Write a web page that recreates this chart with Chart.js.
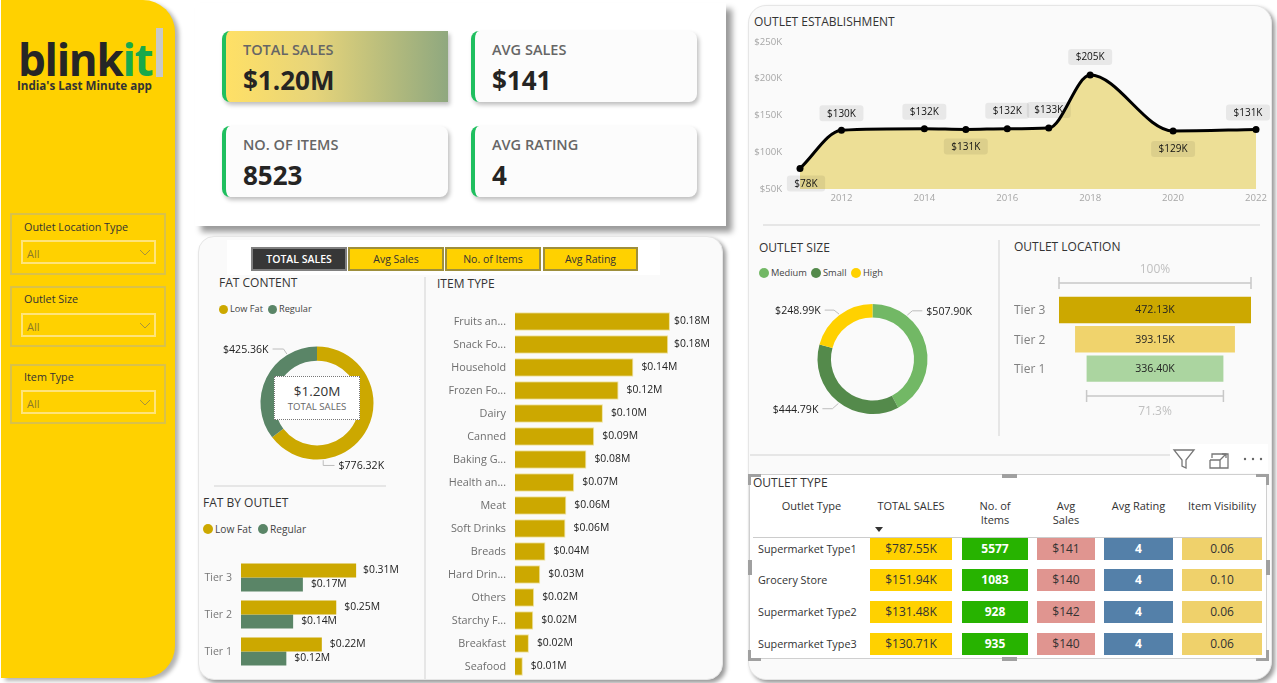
<!DOCTYPE html>
<html>
<head>
<meta charset="utf-8">
<title>Blinkit sales dashboard</title>
<script src="https://cdn.jsdelivr.net/npm/chart.js@4/dist/chart.umd.js"></script>
<style>
html,body{margin:0;padding:0;width:1277px;height:683px;overflow:hidden;background:#fff;font-family:'Open Sans',sans-serif;color:#333}
canvas,.abs,.t{position:absolute}
.t{white-space:nowrap;line-height:16px}
.title{font-size:12px;color:#333}
.sidebar{left:1px;top:0;width:174px;height:678px;background:#ffd100;border-radius:0 32px 32px 0;box-shadow:4px 3px 4px rgba(0,0,0,.3)}
.slicer{left:10px;width:152px;border:2px solid #d9c14a;box-sizing:content-box}
.drop{left:9px;width:131px;height:20px;border:2px solid #ffe47a}
.drop span{position:absolute;left:4px;top:3.5px;font-size:11px;line-height:16px;color:#8c7a2a}
.chev{position:absolute;right:3px;top:7px}
.kpi-panel{left:195px;top:3px;width:531px;height:223px;background:#fff;box-shadow:6px 6px 6px rgba(0,0,0,.4)}
#cards{left:222px;top:31px;display:grid;grid-template-columns:226px 226px;grid-auto-rows:71px;column-gap:23px;row-gap:24px}
.card{position:relative;background:#fcfcfc;border-left:4px solid #1fbf5f;border-radius:8px;box-shadow:2px 3px 4px rgba(0,0,0,.25);box-sizing:border-box}
.card.on{background:linear-gradient(90deg,#ffe066 0%,#e6d47a 40%,#8fa87f 100%);border-radius:8px 0 0 8px}
.card b{position:absolute;left:17px;top:8.5px;font-size:14.5px;line-height:20px;font-weight:600;color:#666;white-space:nowrap}
.card strong{position:absolute;left:17px;top:30.5px;font-size:26px;line-height:36px;font-weight:700;color:#252423}
.panel{background:#fafafa;box-shadow:3px 3px 4px rgba(0,0,0,.4);border:1px solid #e6e6e6;box-sizing:border-box}
.btn{top:247px;height:24px;box-sizing:border-box;border:2px solid #9e8f3c;background:#ffd100;font-size:10.5px;line-height:20px;text-align:center;color:#333}
.btn.on{background:#373737;border-color:#808080;color:#fff;font-weight:600}
.dot{position:absolute;border-radius:50%}
.sep{position:absolute;background:#e6e6e6}
#grid{left:753px;top:495.5px;display:grid;grid-template-columns:117px 82px 10px 66px 9px 58px 9px 69px 9px 80px;font-size:11px;text-align:center}
.head{height:42px;line-height:14px;padding-top:3.5px;box-sizing:border-box;color:#333}
.cell{height:22px;line-height:22px;margin-bottom:9.7px;font-size:12px;color:#333}
.name{text-align:left;padding-left:5px;font-size:10.8px}
.white{color:#fff;font-weight:700}
.handle{position:absolute;background:#a0a0a0}
</style>
</head>
<body>

<div class="abs sidebar"></div>
<div class="t" style="left:18px;top:35px;font-size:44px;line-height:48px;font-weight:700;color:#262626;letter-spacing:-1.3px">blink<span style="color:#18a94b">it</span></div>
<div class="abs" style="left:156px;top:28px;width:7px;height:49px;background:#c9c9c9"></div>
<div class="t" style="left:17px;top:78px;font-size:11.6px;font-weight:700;color:#333">India's Last Minute app</div>

<div class="abs slicer" style="top:213px;height:58px">
  <div class="t" style="left:12px;top:4px;font-size:10.8px">Outlet Location Type</div>
  <div class="abs drop" style="top:25px"><span>All</span><svg class="chev" width="12" height="8"><path d="M1 1l5 5 5-5" fill="none" stroke="#a8943c"/></svg></div>
</div>
<div class="abs slicer" style="top:286px;height:57px">
  <div class="t" style="left:12px;top:3px;font-size:10.8px">Outlet Size</div>
  <div class="abs drop" style="top:25px"><span>All</span><svg class="chev" width="12" height="8"><path d="M1 1l5 5 5-5" fill="none" stroke="#a8943c"/></svg></div>
</div>
<div class="abs slicer" style="top:364px;height:56px">
  <div class="t" style="left:12px;top:3px;font-size:10.8px">Item Type</div>
  <div class="abs drop" style="top:24px"><span>All</span><svg class="chev" width="12" height="8"><path d="M1 1l5 5 5-5" fill="none" stroke="#a8943c"/></svg></div>
</div>

<div class="abs kpi-panel"></div>
<div class="abs" id="cards"></div>

<!-- middle panel -->
<div class="abs panel" style="left:198px;top:236px;width:525px;height:444px;border-radius:16px"></div>
<div class="abs" style="left:227px;top:240px;width:433px;height:35px;background:#fff"></div>
<div class="abs btn on" style="left:251px;width:96px">TOTAL SALES</div>
<div class="abs btn" style="left:348px;width:96px">Avg Sales</div>
<div class="abs btn" style="left:445px;width:96px">No. of Items</div>
<div class="abs btn" style="left:543px;width:95px">Avg Rating</div>

<div class="t title" style="left:219px;top:275px">FAT CONTENT</div>
<div class="t title" style="left:437px;top:276px">ITEM TYPE</div>
<div class="t title" style="left:203px;top:495px">FAT BY OUTLET</div>
<div class="sep" style="left:424px;top:277px;width:2px;height:402px"></div>
<div class="sep" style="left:214px;top:485px;width:172px;height:2px"></div>
<div class="abs" id="fatLegend"></div>
<div class="abs" id="fatOutletLegend"></div>

<canvas id="fatDonut" width="220" height="140" style="left:207px;top:333px"></canvas>
<div class="abs" style="left:274px;top:376px;width:86px;height:44px;box-sizing:border-box;background:#fff;border:1px dotted #777;text-align:center">
  <div style="font-size:13.5px;line-height:18px;margin-top:5px;color:#333">$1.20M</div>
  <div style="font-size:9.6px;line-height:13px;color:#666">TOTAL SALES</div>
</div>
<canvas id="fatOutlet" width="205" height="125" style="left:200px;top:550px"></canvas>
<canvas id="itemType" width="290" height="380" style="left:430px;top:300px"></canvas>

<!-- right panel -->
<div class="abs panel" style="left:748px;top:5px;width:524px;height:675px;border-radius:18px"></div>
<div class="t title" style="left:754px;top:14px">OUTLET ESTABLISHMENT</div>
<div class="sep" style="left:763px;top:224px;width:497px;height:2px"></div>
<div class="t title" style="left:759px;top:240px">OUTLET SIZE</div>
<div class="t title" style="left:1014px;top:239px">OUTLET LOCATION</div>
<div class="sep" style="left:998px;top:240px;width:2px;height:196px"></div>
<div class="sep" style="left:750px;top:454px;width:420px;height:2px"></div>
<div class="abs" id="sizeLegend"></div>

<canvas id="estChart" width="525" height="180" style="left:750px;top:30px"></canvas>
<canvas id="sizeDonut" width="221" height="140" style="left:762px;top:289px"></canvas>
<canvas id="funnel" width="246" height="160" style="left:1014px;top:260px"></canvas>

<!-- visual header icons over the table -->
<div class="abs" style="left:1170px;top:444px;width:98px;height:29px;background:#fff"></div>
<svg class="abs" style="left:1172px;top:448px" width="96" height="24" fill="none" stroke="#777" stroke-width="1.3">
  <path d="M2 2h20l-8 10v8l-4-2v-6z"/>
  <path d="M38 12v8h10v-8h-10M48 20h8v-14h-16v4"/>
  <path d="M48 12l6-6m-4 0h4v4"/>
  <circle cx="73" cy="11" r="1.2" fill="#666" stroke="none"/><circle cx="81" cy="11" r="1.2" fill="#666" stroke="none"/><circle cx="89" cy="11" r="1.2" fill="#666" stroke="none"/>
</svg>

<!-- table visual -->
<div class="abs" style="left:749px;top:474px;width:518px;height:185px;background:#fff;border:1px solid #cfcfcf;box-sizing:border-box"></div>
<div class="t title" style="left:753px;top:475px">OUTLET TYPE</div>
<div class="abs" id="grid"></div>
<div class="abs" style="left:753px;top:537px;width:509px;height:1px;background:#ccc"></div>
<svg class="abs" style="left:875px;top:527px" width="8" height="5"><path d="M0 0h8l-4 5z" fill="#333"/></svg>
<div class="handle" style="left:748px;top:474px;width:13px;height:3px"></div><div class="handle" style="left:748px;top:474px;width:3px;height:11px"></div>
<div class="handle" style="left:1256px;top:474px;width:13px;height:3px"></div><div class="handle" style="left:1266px;top:474px;width:3px;height:11px"></div>
<div class="handle" style="left:748px;top:658px;width:13px;height:3px"></div><div class="handle" style="left:748px;top:650px;width:3px;height:11px"></div>
<div class="handle" style="left:1256px;top:658px;width:13px;height:3px"></div><div class="handle" style="left:1266px;top:650px;width:3px;height:11px"></div>
<div class="handle" style="left:1002px;top:474px;width:15px;height:4px"></div>
<div class="handle" style="left:1002px;top:657px;width:15px;height:4px"></div>
<div class="handle" style="left:748px;top:560px;width:4px;height:15px"></div>
<div class="handle" style="left:1266px;top:560px;width:4px;height:15px"></div>

<script>
// KPI cards
var kpiTitles = ['TOTAL SALES', 'AVG SALES', 'NO. OF ITEMS', 'AVG RATING'];
var kpiValues = ['$1.20M', '$141', '8523', '4'];

// outlet establishment, sales in $K
var estYears = [2011, 2012, 2014, 2015, 2016, 2017, 2018, 2020, 2022];
var estSales = [78, 130, 132, 131, 132, 133, 205, 129, 131];
var estYearTicks = [2012, 2014, 2016, 2018, 2020, 2022];

// fat content, $K
var fatNames = ['Low Fat', 'Regular'];
var fatSales = [776.32, 425.36];

// fat by outlet, $M
var tiers = ['Tier 3', 'Tier 2', 'Tier 1'];
var lowFatByTier = [0.307, 0.254, 0.2155];
var regularByTier = [0.165, 0.139, 0.1209];

// item type, $M
var itemNames = ['Fruits an...', 'Snack Fo...', 'Household', 'Frozen Fo...', 'Dairy', 'Canned', 'Baking G...', 'Health an...', 'Meat', 'Soft Drinks', 'Breads', 'Hard Drin...', 'Others', 'Starchy F...', 'Breakfast', 'Seafood'];
var itemSales = [0.178, 0.176, 0.136, 0.119, 0.101, 0.091, 0.082, 0.068, 0.059, 0.058, 0.035, 0.029, 0.022, 0.021, 0.016, 0.009];

// outlet size, $K
var sizeNames = ['Medium', 'Small', 'High'];
var sizeSales = [507.90, 444.79, 248.99];

// outlet location, $K
var tierSales = [472.13, 393.15, 336.40];

// outlet type table
var typeHeaders = ['Outlet Type', 'TOTAL SALES', 'No. of<br>Items', 'Avg<br>Sales', 'Avg Rating', 'Item Visibility'];
var typeNames = ['Supermarket Type1', 'Grocery Store', 'Supermarket Type2', 'Supermarket Type3'];
var typeSales = ['$787.55K', '$151.94K', '$131.48K', '$130.71K'];
var typeItems = ['5577', '1083', '928', '935'];
var typeAvgSales = ['$141', '$140', '$142', '$140'];
var typeRating = ['4', '4', '4', '4'];
var typeVisibility = ['0.06', '0.10', '0.06', '0.06'];

var GOLD = '#cca800', SAGE = '#5a8567';

Chart.defaults.font.family = "'Open Sans', sans-serif";
Chart.defaults.animation = false;
Chart.defaults.responsive = false;
Chart.defaults.plugins.legend.display = false;
Chart.defaults.plugins.tooltip.enabled = false;

// cards
kpiTitles.forEach(function (name, i) {
	document.getElementById('cards').insertAdjacentHTML('beforeend',
		'<div class="card' + (i == 0 ? ' on' : '') + '"><b>' + name + '</b><strong>' + kpiValues[i] + '</strong></div>');
});

// html legends
function legend(id, left, top, names, colors, size, radius, gaps) {
	var box = document.getElementById(id);
	box.style.left = left + 'px';
	box.style.top = top + 'px';
	var x = 0;
	names.forEach(function (name, i) {
		box.insertAdjacentHTML('beforeend',
			'<div class="dot" style="left:' + x + 'px;top:' + (-radius) + 'px;width:' + radius * 2 + 'px;height:' + radius * 2 + 'px;background:' + colors[i] + '"></div>' +
			'<div class="t" style="left:' + (x + radius * 2 + 2) + 'px;top:-8px;font-size:' + size + 'px;color:#444">' + name + '</div>');
		x += gaps[i];
	});
}
legend('fatLegend', 219, 309, fatNames, [GOLD, SAGE], 9.2, 4.5, [49]);
legend('fatOutletLegend', 203, 529, fatNames, [GOLD, SAGE], 10.2, 5, [55]);
legend('sizeLegend', 759, 273, sizeNames, ['#72b865', '#548a4b', '#ffd100'], 9.3, 5, [52, 40]);

// outlet type table
var grid = document.getElementById('grid');
typeHeaders.forEach(function (h, i) {
	grid.insertAdjacentHTML('beforeend', '<div class="head">' + h + '</div>' + (i > 0 && i < 5 ? '<div></div>' : ''));
});
typeNames.forEach(function (name, r) {
	grid.insertAdjacentHTML('beforeend',
		'<div class="cell name">' + name + '</div>' +
		'<div class="cell" style="background:#ffd100">' + typeSales[r] + '</div><div></div>' +
		'<div class="cell white" style="background:#27b300">' + typeItems[r] + '</div><div></div>' +
		'<div class="cell" style="background:#e09590">' + typeAvgSales[r] + '</div><div></div>' +
		'<div class="cell white" style="background:#5480a9">' + typeRating[r] + '</div><div></div>' +
		'<div class="cell" style="background:#efd16b">' + typeVisibility[r] + '</div>');
});

// value at the end of each horizontal bar, $0.00M
var barEndLabels = {
	id: 'barEndLabels',
	afterDatasetsDraw: function (chart, args, opts) {
		var ctx = chart.ctx;
		ctx.save();
		ctx.font = opts.size + "px 'Open Sans'";
		ctx.fillStyle = '#222';
		ctx.textBaseline = 'middle';
		chart.data.datasets.forEach(function (ds, d) {
			chart.getDatasetMeta(d).data.forEach(function (bar, i) {
				var x = Math.min(bar.x + 8, chart.chartArea.left + opts.limit);
				ctx.fillText('$' + ds.data[i].toFixed(2) + 'M', x, bar.y);
			});
		});
		ctx.restore();
	}
};

// donut slice labels with leader lines
var donutLeaders = {
	id: 'donutLeaders',
	afterDatasetsDraw: function (chart, args, opts) {
		var ctx = chart.ctx, arcs = chart.getDatasetMeta(0).data;
		ctx.save();
		ctx.font = "10.6px 'Open Sans'";
		ctx.textBaseline = 'middle';
		arcs.forEach(function (arc, i) {
			var l = opts.leaders[i], a = l.angle * Math.PI / 180, r = arc.outerRadius + 1;
			var x0 = arc.x + r * Math.sin(a), y0 = arc.y - r * Math.cos(a);
			var x1 = x0 + l.ex, y1 = y0 + l.ey, x2 = x1 + l.run;
			ctx.strokeStyle = '#bdbdbd';
			ctx.lineWidth = 1;
			ctx.beginPath();
			ctx.moveTo(x0, y0);
			ctx.lineTo(x1, y1);
			ctx.lineTo(x2, y1);
			ctx.stroke();
			ctx.fillStyle = '#222';
			ctx.textAlign = l.run < 0 ? 'right' : 'left';
			ctx.fillText('$' + chart.data.datasets[0].data[i].toFixed(2) + 'K', x2 + (l.run < 0 ? -4 : 4), y1 + 1);
		});
		ctx.restore();
	}
};

// rounded grey value pills over the line
var linePills = {
	id: 'linePills',
	afterDatasetsDraw: function (chart, args, opts) {
		var ctx = chart.ctx;
		ctx.save();
		ctx.font = "10px 'Open Sans'";
		ctx.textAlign = 'center';
		ctx.textBaseline = 'middle';
		chart.getDatasetMeta(0).data.forEach(function (pt, i) {
			var text = '$' + estSales[i] + 'K';
			var w = ctx.measureText(text).width + 15, h = 16;
			var cx = pt.x + (opts.shiftX[i] || 0), cy = pt.y + opts.shiftY[i];
			ctx.fillStyle = 'rgba(0,0,0,.07)';
			ctx.beginPath();
			ctx.roundRect(cx - w / 2, cy - h / 2, w, h, 3);
			ctx.fill();
			ctx.fillStyle = '#111';
			ctx.fillText(text, cx, cy + 0.5);
		});
		ctx.restore();
	}
};

// funnel: value inside each bar, span brackets above and below
var funnelMarks = {
	id: 'funnelMarks',
	afterDatasetsDraw: function (chart) {
		var ctx = chart.ctx, x = chart.scales.x, bars = chart.getDatasetMeta(0).data;
		var top = tierSales[0], last = tierSales[tierSales.length - 1];
		ctx.save();
		ctx.textAlign = 'center';
		ctx.textBaseline = 'middle';
		ctx.font = "10.6px 'Open Sans'";
		ctx.fillStyle = '#222';
		bars.forEach(function (bar, i) {
			ctx.fillText(tierSales[i].toFixed(2) + 'K', x.getPixelForValue(0), bar.y + 0.5);
		});
		function bracket(v, y, ty, label) {
			var a = x.getPixelForValue(-v / 2), b = x.getPixelForValue(v / 2);
			ctx.strokeStyle = '#c8c8c8';
			ctx.lineWidth = 1.5;
			ctx.beginPath();
			ctx.moveTo(a, y - 6); ctx.lineTo(a, y + 6);
			ctx.moveTo(a, y); ctx.lineTo(b, y);
			ctx.moveTo(b, y - 6); ctx.lineTo(b, y + 6);
			ctx.stroke();
			ctx.font = "12px 'Open Sans'";
			ctx.fillStyle = '#c0c0c0';
			ctx.fillText(label, x.getPixelForValue(0), ty);
		}
		bracket(top, 23, 10, '100%');
		bracket(last, 136, 152, (last / top * 100).toFixed(1) + '%');
		ctx.restore();
	}
};

// fixed gutter for an axis, no extra padding from its tick labels
function fixGutter(size) {
	return function (s) {
		if (s.isHorizontal()) s.height = size; else s.width = size;
		s.paddingTop = s.paddingBottom = s.paddingLeft = s.paddingRight = 0;
	};
}
var plainGrid = { display: false, drawTicks: false };

// outlet establishment area line
new Chart(document.getElementById('estChart'), {
	type: 'line',
	data: {
		datasets: [{
			data: estYears.map(function (y, i) { return { x: y, y: estSales[i] }; }),
			borderColor: '#000',
			borderWidth: 3,
			backgroundColor: '#eddf96',
			fill: 'origin',
			clip: false,
			cubicInterpolationMode: 'monotone',
			pointRadius: 3.5,
			pointBackgroundColor: '#000',
			pointBorderWidth: 0
		}]
	},
	options: {
		layout: { padding: { top: 12, right: 19 } },
		plugins: {
			linePills: {
				shiftY: [15, -17, -17, 17, -18, -18, -18, 18, -17],
				shiftX: [6, 0, 0, 0, 0, 0, 0, 0, -8]
			}
		},
		scales: {
			x: {
				type: 'linear', min: 2011, max: 2022,
				grid: plainGrid, border: { display: false },
				afterBuildTicks: function (s) { s.ticks = estYearTicks.map(function (v) { return { value: v }; }); },
				afterFit: fixGutter(21),
				ticks: {
					color: '#a6a6a6', font: { size: 9.6 }, padding: 4, maxRotation: 0, autoSkip: false,
					callback: function (v) { return String(v); }
				}
			},
			y: {
				min: 50, max: 250,
				grid: plainGrid, border: { display: false },
				afterFit: fixGutter(50),
				ticks: {
					color: '#a6a6a6', font: { size: 9.6 }, padding: 18, stepSize: 50,
					callback: function (v) { return '$' + v + 'K'; }
				}
			}
		}
	},
	plugins: [linePills]
});

// fat content donut
new Chart(document.getElementById('fatDonut'), {
	type: 'doughnut',
	data: {
		labels: fatNames,
		datasets: [{ data: fatSales, backgroundColor: [GOLD, SAGE], borderWidth: 0 }]
	},
	options: {
		radius: 56.5, cutout: '75%',
		plugins: {
			donutLeaders: {
				leaders: [
					{ angle: 173.8, ex: 0, ey: 5.3, run: 11.3 },
					{ angle: -31.6, ex: -3.3, ey: -5, run: -11 }
				]
			}
		}
	},
	plugins: [donutLeaders]
});

// outlet size donut
new Chart(document.getElementById('sizeDonut'), {
	type: 'doughnut',
	data: {
		labels: sizeNames,
		datasets: [{ data: sizeSales, backgroundColor: ['#72b865', '#548a4b', '#ffd100'], borderWidth: 0 }]
	},
	options: {
		radius: 55, cutout: '75.5%',
		plugins: {
			donutLeaders: {
				leaders: [
					{ angle: 38.4, ex: 5, ey: -4.3, run: 10 },
					{ angle: 217.5, ex: -6, ey: 5.3, run: -10 },
					{ angle: -36.7, ex: -5, ey: -4, run: -9.3 }
				]
			}
		}
	},
	plugins: [donutLeaders]
});

// shared options for the horizontal bar charts
function hbarOptions(leftWidth, tickPad, max, padding, labelOpts, tickColor, tickSize) {
	return {
		indexAxis: 'y',
		layout: { padding: padding },
		plugins: { barEndLabels: labelOpts },
		scales: {
			x: { display: false, min: 0, max: max },
			y: {
				grid: plainGrid, border: { display: false },
				afterFit: fixGutter(leftWidth),
				ticks: { color: tickColor, font: { size: tickSize }, padding: tickPad, autoSkip: false }
			}
		}
	};
}

// fat by outlet
new Chart(document.getElementById('fatOutlet'), {
	type: 'bar',
	data: {
		labels: tiers,
		datasets: [
			{ data: lowFatByTier, backgroundColor: GOLD, barPercentage: 1, categoryPercentage: 0.757 },
			{ data: regularByTier, backgroundColor: SAGE, barPercentage: 1, categoryPercentage: 0.757 }
		]
	},
	options: hbarOptions(41, 9, 0.384, { top: 9, bottom: 5, right: 20 }, { size: 10.4, limit: 122 }, '#777', 10.6),
	plugins: [barEndLabels]
});

// item type
new Chart(document.getElementById('itemType'), {
	type: 'bar',
	data: {
		labels: itemNames,
		datasets: [{
			data: itemSales, backgroundColor: GOLD, borderColor: '#efe3a0', borderWidth: 1,
			barPercentage: 0.8, categoryPercentage: 1
		}]
	},
	options: hbarOptions(85, 9, 0.2125, { top: 10, bottom: 2, right: 20 }, { size: 10.4, limit: 159 }, '#6e6e6e', 10.8),
	plugins: [barEndLabels]
});

// outlet location funnel, bars centred on zero
new Chart(document.getElementById('funnel'), {
	type: 'bar',
	data: {
		labels: tiers,
		datasets: [{
			data: tierSales.map(function (v) { return [-v / 2, v / 2]; }),
			backgroundColor: [GOLD, '#f0d36c', '#abd5a0'],
			barPercentage: 0.9, categoryPercentage: 1
		}]
	},
	options: {
		indexAxis: 'y',
		layout: { padding: { top: 35.3, bottom: 36.7, right: 9 } },
		scales: {
			x: { display: false, min: -tierSales[0] / 2, max: tierSales[0] / 2 },
			y: {
				grid: plainGrid, border: { display: false },
				afterFit: fixGutter(45),
				ticks: { color: '#808080', font: { size: 12 }, padding: 0, labelOffset: 1, crossAlign: 'far' }
			}
		}
	},
	plugins: [funnelMarks]
});
</script>
</body>
</html>
